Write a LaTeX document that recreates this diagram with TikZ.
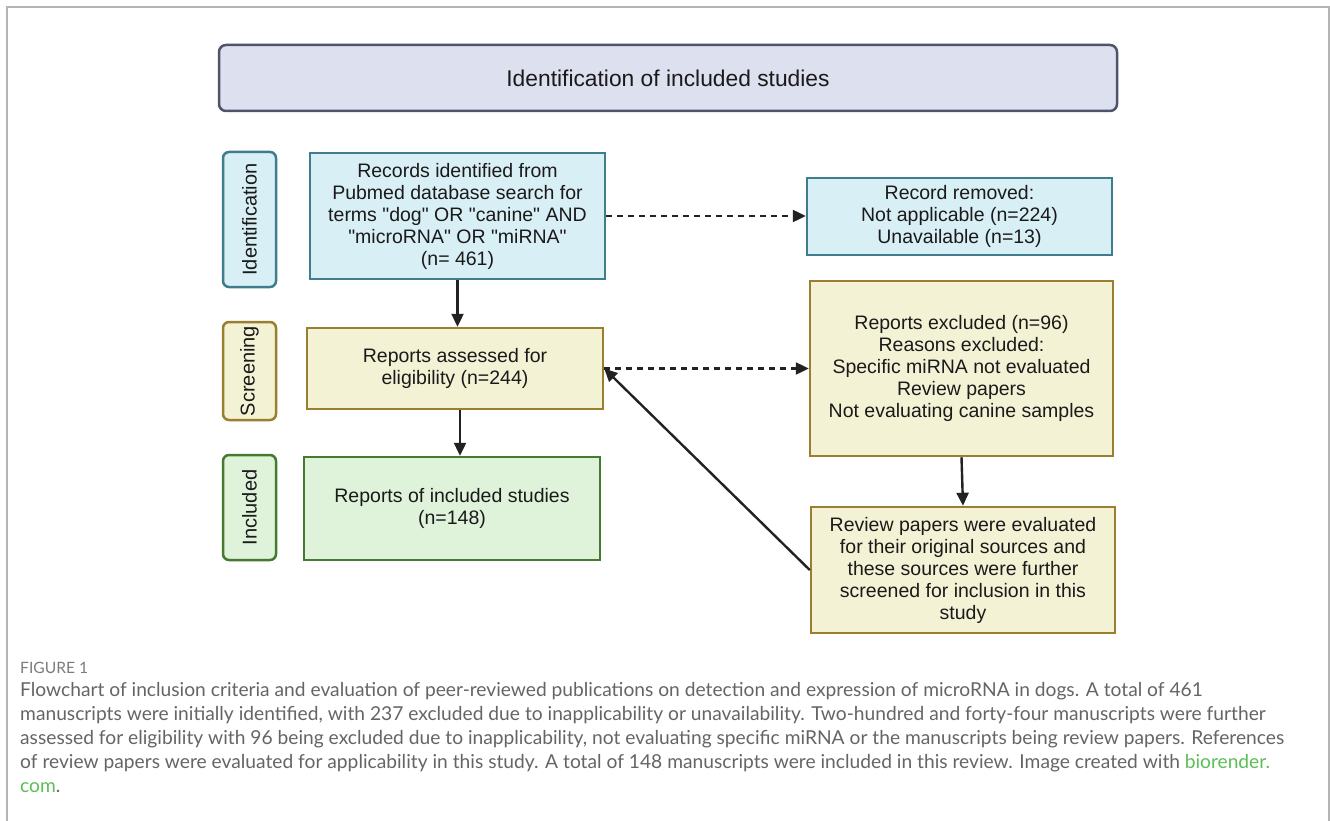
\documentclass[tikz,border=0pt]{standalone}
\usepackage{fontspec}
\setmainfont{Liberation Sans}
\newfontfamily\boxfont{Liberation Sans}
\newfontfamily\capfont{Lato}
\usetikzlibrary{arrows.meta}
\definecolor{framecol}{HTML}{B4B4B4}
\definecolor{titlefill}{HTML}{DDE0EE}
\definecolor{titledraw}{HTML}{50546A}
\definecolor{bluefill}{HTML}{D9EFF6}
\definecolor{bluedraw}{HTML}{3F7D8C}
\definecolor{yelfill}{HTML}{F4F2D5}
\definecolor{yeldraw}{HTML}{9B7F30}
\definecolor{grnfill}{HTML}{DFF3DB}
\definecolor{grndraw}{HTML}{457A30}
\definecolor{arrcol}{HTML}{222222}
\definecolor{textcol}{HTML}{1A1A1A}
\definecolor{capcol}{HTML}{656565}
\definecolor{capgreen}{HTML}{5CBF55}
\begin{document}
\begin{tikzpicture}[x=1pt,y=-1pt,
  box/.style={draw, line width=2.5pt, inner sep=0pt, align=center,
    font=\boxfont\fontsize{19.5}{22}\selectfont, text=textcol},
  bluebox/.style={box, fill=bluefill, draw=bluedraw},
  yelbox/.style={box, fill=yelfill, draw=yeldraw},
  grnbox/.style={box, fill=grnfill, draw=grndraw},
  sidelab/.style={rounded corners=6pt, rotate=90, minimum height=53pt,
    font=\boxfont\fontsize{20}{22}\selectfont},
  arr/.style={draw=arrcol, line width=2.4pt, -{Triangle[length=13pt,width=12pt]}},
  dasharr/.style={arr, dash pattern=on 6pt off 5pt},
  captext/.style={anchor=base west, inner sep=0pt, text=capcol,
    font=\capfont\fontsize{19.2}{24}\selectfont}
]
\useasboundingbox (0,0) rectangle (1330,821);
\fill[white] (0,0) rectangle (1330,821);
\draw[framecol, line width=2pt] (7,821) -- (7,7) -- (1329,7) -- (1329,821);

\node[box, fill=titlefill, draw=titledraw, rounded corners=7pt,
  minimum width=898pt, minimum height=66pt,
  font=\boxfont\fontsize{22.8}{26}\selectfont] (title) at (668,78) {Identification of included studies};

\node[bluebox, sidelab, minimum width=135pt] (idlab) at (249.5,219.5) {Identification};
\node[yelbox, sidelab, minimum width=98pt] (scrlab) at (249.5,371) {Screening};
\node[grnbox, sidelab, minimum width=105pt] (inclab) at (249.5,507.5) {Included};

\node[bluebox, minimum width=295pt, minimum height=126pt] (rec) at (457.5,216)
  {Records identified from\\Pubmed database search for\\terms "dog" OR "canine" AND\\"microRNA" OR "miRNA"\\(n= 461)};
\node[bluebox, minimum width=305pt, minimum height=77pt] (rem) at (959.5,216.5)
  {Record removed:\\Not applicable (n=224)\\Unavailable (n=13)};
\node[yelbox, minimum width=296pt, minimum height=81pt] (assess) at (455,368.5)
  {Reports assessed for\\eligibility (n=244)};
\node[yelbox, minimum width=303pt, minimum height=175pt] (excl) at (961.5,368.5)
  {Reports excluded (n=96)\\Reasons excluded:\\Specific miRNA not evaluated\\Review papers\\Not evaluating canine samples};
\node[grnbox, minimum width=296pt, minimum height=103pt] (incl) at (452,508.5)
  {Reports of included studies\\(n=148)};
\node[yelbox, minimum width=304pt, minimum height=126pt] (review) at (963,570)
  {Review papers were evaluated\\for their original sources and\\these sources were further\\screened for inclusion in this\\study};

\draw[arr] (rec.south) -- (rec.south |- assess.north);
\draw[arr] ([xshift=5pt]assess.south) -- ([xshift=5pt]assess.south |- incl.north);
\draw[dasharr] (rec.east) -- (rec.east -| rem.west);
\draw[dasharr] (assess.east) -- (assess.east -| excl.west);
\draw[arr] (excl.south) -- (review.north);
\draw[arr] (review.west) -- (assess.east);

\node[captext, font=\capfont\fontsize{15.6}{16}\selectfont, text=capcol!85] (fig) at (20,673) {FIGURE 1};
\node[captext] (c1) at (20,696) {Flowchart of inclusion criteria and evaluation of peer-reviewed publications on detection and expression of microRNA in dogs. A total of 461};
\node[captext] (c2) at (20,720) {manuscripts were initially identified, with 237 excluded due to inapplicability or unavailability. Two-hundred and forty-four manuscripts were further};
\node[captext] (c3) at (20,744) {assessed for eligibility with 96 being excluded due to inapplicability, not evaluating specific miRNA or the manuscripts being review papers. References};
\node[captext] (c4) at (20,768) {of review papers were evaluated for applicability in this study. A total of 148 manuscripts were included in this review. Image created with \textcolor{capgreen}{biorender.}};
\node[captext] (c5) at (20,792) {\textcolor{capgreen}{com}.};
\end{tikzpicture}
\end{document}
